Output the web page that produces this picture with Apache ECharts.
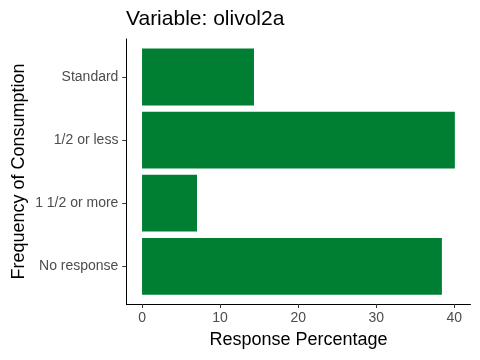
<!DOCTYPE html>
<html>
<head>
<meta charset="utf-8">
<script src="https://cdn.jsdelivr.net/npm/echarts@6/dist/echarts.min.js"></script>
<style>html,body{margin:0;padding:0;background:#fff}#c{width:480px;height:360px}</style>
</head>
<body>
<div id="c"></div>
<script>
var categories = ['Standard', '1/2 or less', '1 1/2 or more', 'No response'];
var percentages = [14.34, 40.07, 7.04, 38.41];
var xTickValues = [0, 10, 20, 30, 40];
var titleText = 'Variable: olivol2a';
var xTitle = 'Response Percentage';
var yTitle = 'Frequency of Consumption';

var FONT = 'Liberation Sans, Arial, sans-serif';
var dataMax = Math.max.apply(null, percentages);
var pad = dataMax * 0.05;
var xMin = -pad, xMax = dataMax + pad;
var gridLeft = 126.4, gridRight = 9.5;

var chart = echarts.init(document.getElementById('c'), null, {renderer: 'canvas'});
chart.setOption({
  animation: false,
  backgroundColor: '#ffffff',
  title: {
    text: titleText, left: 126, top: 9, padding: 0,
    textStyle: {fontFamily: FONT, fontSize: 21, fontWeight: 'normal', color: '#000'}
  },
  grid: [
    {left: gridLeft, right: gridRight, top: 45.45, height: 252.4},
    {left: gridLeft, right: gridRight, top: 39, height: 265}
  ],
  xAxis: [
    {type: 'value', gridIndex: 0, min: xMin, max: xMax, show: false},
    {type: 'value', gridIndex: 1, min: xMin, max: xMax,
     axisLine: {show: true, onZero: false, lineStyle: {color: '#000', width: 1}},
     axisTick: {show: true, length: 4, customValues: xTickValues, lineStyle: {color: '#333'}},
     axisLabel: {customValues: xTickValues, color: '#4D4D4D', fontSize: 14, fontFamily: FONT, margin: 7},
     splitLine: {show: false},
     name: xTitle, nameLocation: 'middle', nameGap: 27,
     nameTextStyle: {fontFamily: FONT, fontSize: 18, color: '#000'}}
  ],
  yAxis: [
    {type: 'category', gridIndex: 0, data: categories, inverse: true,
     axisLine: {show: true, onZero: false, lineStyle: {color: '#000', width: 1}},
     axisTick: {show: true, length: 4, alignWithLabel: true, lineStyle: {color: '#333'}},
     axisLabel: {color: '#4D4D4D', fontSize: 14, fontFamily: FONT, margin: 8},
     splitLine: {show: false}},
    {type: 'value', gridIndex: 1, min: 0, max: 1,
     axisLine: {show: true, onZero: false, lineStyle: {color: '#000', width: 1}},
     axisTick: {show: false}, axisLabel: {show: false}, splitLine: {show: false},
     name: yTitle, nameLocation: 'middle', nameRotate: 90, nameGap: 98,
     nameTextStyle: {fontFamily: FONT, fontSize: 18, color: '#000'}}
  ],
  series: [{
    type: 'bar', xAxisIndex: 0, yAxisIndex: 0,
    data: percentages, barCategoryGap: '10%',
    itemStyle: {color: '#007F33'}
  }]
});
</script>
</body>
</html>
